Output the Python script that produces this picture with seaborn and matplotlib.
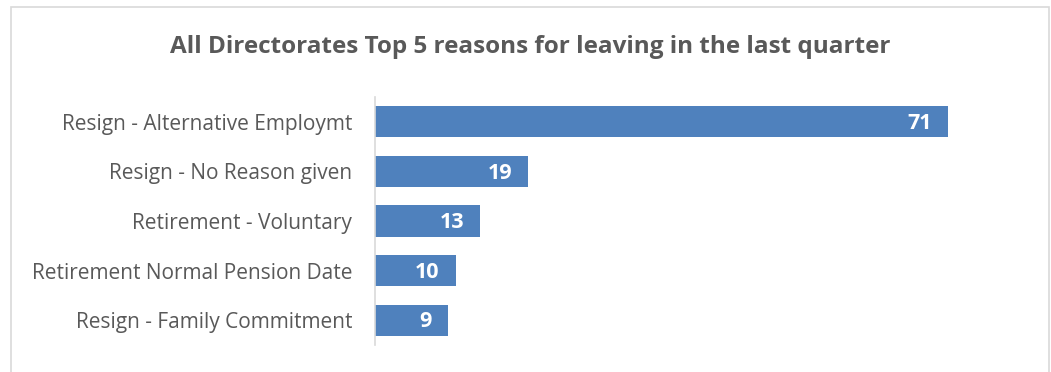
import matplotlib
matplotlib.use("Agg")
import matplotlib.pyplot as plt
import seaborn as sns
import pandas as pd
from matplotlib.patches import Rectangle
import matplotlib.transforms as mtransforms

categories = ["Resign - Alternative Employmt", "Resign - No Reason given",
              "Retirement - Voluntary", "Retirement Normal Pension Date",
              "Resign - Family Commitment"]
values = [71, 19, 13, 10, 9]
title = "All Directorates Top 5 reasons for leaving in the last quarter"

sns.set_theme(style="white")
plt.rcParams['font.family'] = ['Open Sans', 'DejaVu Sans']

W, H = 1051, 372
fig = plt.figure(figsize=(W / 100, H / 100), dpi=100)
ax = fig.add_axes([375 / W, 1 - 345 / H, (1021 - 375) / W, (345 - 97) / H])

df = pd.DataFrame({"reason": categories, "count": values})
sns.barplot(data=df, y="reason", x="count", orient="h", color="#4F81BD",
            saturation=1, width=0.63, ax=ax, edgecolor="none")

ax.set_xlim(0, 80)
ax.set_xlabel("")
ax.set_ylabel("")
ax.set_xticks([])
for s in ["top", "right", "bottom"]:
    ax.spines[s].set_visible(False)
ax.spines["left"].set_color("#D9D9D9")
ax.spines["left"].set_linewidth(1.2)
ax.tick_params(axis="y", length=0, pad=16.5, labelsize=15, labelcolor="#595959")

offset = mtransforms.offset_copy(ax.transData, fig=fig, x=-11.5, y=-1.2, units="points")
for i, v in enumerate(values):
    ax.text(v, i, str(v), transform=offset, ha="right", va="center",
            color="white", fontweight="bold", fontsize=15.5)

fig.text(530 / W, 1 - 47 / H, title, ha="center", va="center",
         fontsize=17.5, fontweight="bold", color="#595959")

fig.patches.append(Rectangle((11 / W, -0.1), (1049 - 11) / W, 1.1 - 7 / H,
                             transform=fig.transFigure, fill=False,
                             edgecolor="#D9D9D9", linewidth=1.2))

fig.savefig("out.png", dpi=100)
